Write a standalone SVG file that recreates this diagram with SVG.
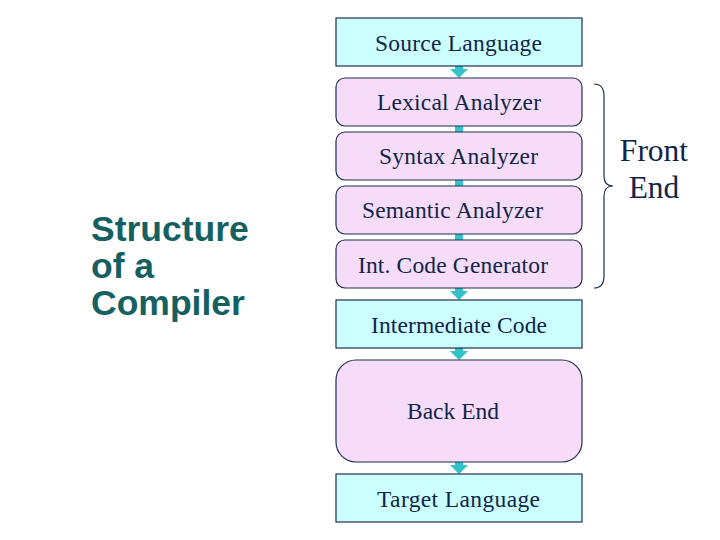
<svg xmlns="http://www.w3.org/2000/svg" width="720" height="540" viewBox="0 0 720 540">
<style>
.sq{fill:#ccffff;stroke:#1f2f4f;stroke-width:1.2}
.rd{fill:#f6dcf8;stroke:#1f2f4f;stroke-width:1.2}
.t{font-family:"Liberation Serif","Times New Roman",serif;font-size:23.5px;fill:#10254a}
.fe{font-family:"Liberation Serif","Times New Roman",serif;font-size:31.5px;fill:#10254a;text-anchor:middle}
.ttl{font-family:"Liberation Sans",Arial,sans-serif;font-weight:bold;font-size:35.5px;fill:#156161}
.cn{fill:#33c2c8}
</style>
<rect width="720" height="540" fill="#ffffff"/>
<g id="title">
<text class="ttl" x="91" y="241">Structure</text>
<text class="ttl" x="91" y="278">of a</text>
<text class="ttl" x="91" y="315">Compiler</text>
</g>
<g id="connectors">
<path class="cn" d="M455,66 h8 v3 h5 l-9,9 l-9,-9 h5 z"/>
<rect class="cn" x="455" y="126" width="8" height="6"/>
<rect class="cn" x="455" y="180" width="8" height="6"/>
<rect class="cn" x="455" y="234" width="8" height="6"/>
<path class="cn" d="M455,288 h8 v3 h5 l-9,9 l-9,-9 h5 z"/>
<path class="cn" d="M455,348 h8 v3 h5 l-9,9 l-9,-9 h5 z"/>
<path class="cn" d="M455,462 h8 v3 h5 l-9,9 l-9,-9 h5 z"/>
</g>
<g id="source">
<rect class="sq" x="336" y="18" width="246" height="48"/>
<text class="t" x="375" y="51" textLength="167">Source Language</text>
</g>
<g id="lexical">
<rect class="rd" x="336" y="78" width="246" height="48" rx="9"/>
<text class="t" x="377" y="110" textLength="164">Lexical Analyzer</text>
</g>
<g id="syntax">
<rect class="rd" x="336" y="132" width="246" height="48" rx="9"/>
<text class="t" x="379" y="164" textLength="159">Syntax Analyzer</text>
</g>
<g id="semantic">
<rect class="rd" x="336" y="186" width="246" height="48" rx="9"/>
<text class="t" x="362" y="218" textLength="181">Semantic Analyzer</text>
</g>
<g id="intgen">
<rect class="rd" x="336" y="240" width="246" height="48" rx="9"/>
<text class="t" x="358" y="273" textLength="190">Int. Code Generator</text>
</g>
<g id="intermediate">
<rect class="sq" x="336" y="300" width="246" height="48"/>
<text class="t" x="371" y="333" textLength="176">Intermediate Code</text>
</g>
<g id="backend">
<rect class="rd" x="336" y="360" width="246" height="102" rx="20"/>
<text class="t" x="407" y="419" textLength="92">Back End</text>
</g>
<g id="target">
<rect class="sq" x="336" y="474" width="246" height="48"/>
<text class="t" x="377" y="507" textLength="163">Target Language</text>
</g>
<g id="frontend">
<path d="M594,84 Q604,84 604,96 L604,176 Q604,186 613,186 Q604,186 604,196 L604,276 Q604,288 594,288" fill="none" stroke="#1f2f4f" stroke-width="1.2"/>
<text class="fe" x="654" y="161">Front</text>
<text class="fe" x="654" y="198">End</text>
</g>
</svg>
